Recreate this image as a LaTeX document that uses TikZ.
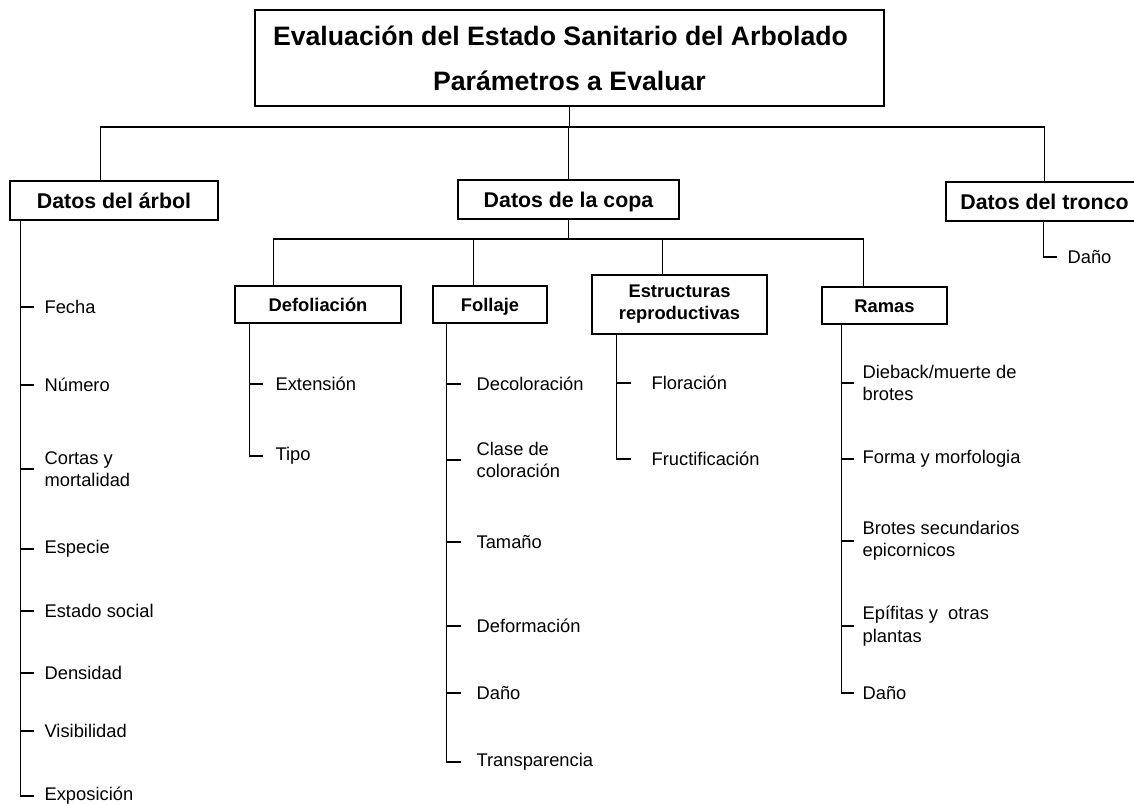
\documentclass[tikz,border=0pt]{standalone}
\usepackage{fontspec}
\setmainfont{Liberation Sans}
\usetikzlibrary{calc}
\newdimen\pxu \pxu=0.75pt
\begin{document}
\begin{tikzpicture}[x=0.75pt,y=-0.75pt,line width=0.9pt,
  box/.style={draw, inner sep=0pt, align=center},
  titlef/.style={font=\fontsize{20}{33.75}\selectfont\bfseries},
  bigf/.style={font=\fontsize{16}{19}\selectfont\bfseries, text height=11.46pt, text depth=0pt},
  subf/.style={font=\fontsize{13.75}{16.5}\selectfont\bfseries},
  subone/.style={subf, text height=9.85pt, text depth=0pt},
  item/.style={anchor=west, inner sep=0pt, align=left, font=\fontsize{13.75}{16.875}\selectfont},
]
\useasboundingbox (0,0) rectangle (1134,805);
\fill[white] (0,0) rectangle (1134,805);

% boxes
\node[box,titlef,minimum width=629*\pxu,minimum height=96*\pxu] (top) at (569.5,58)
  {Evaluación del Estado Sanitario del Arbolado\hspace*{18\pxu}\\Parámetros a Evaluar};
\node[box,bigf,minimum width=208*\pxu,minimum height=39*\pxu] (arbol) at (114,200.5) {Datos del árbol};
\node[box,bigf,minimum width=221*\pxu,minimum height=39*\pxu] (copa) at (568.5,199.5) {Datos de la copa};
\node[box,bigf,minimum width=197*\pxu,minimum height=39*\pxu] (tronco) at (1044.5,201.5) {Datos del tronco};
\node[box,subone,minimum width=166*\pxu,minimum height=37*\pxu] (defol) at (318,304.5) {Defoliación};
\node[box,subone,minimum width=114*\pxu,minimum height=37*\pxu] (foll) at (490,304.5) {Follaje};
\node[box,subf,minimum width=175*\pxu,minimum height=59*\pxu] (estr) at (679.5,304.5) {Estructuras\\reproductivas};
\node[box,subone,minimum width=125*\pxu,minimum height=37*\pxu] (ramas) at (884.5,305.5) {Ramas};

% first level bus
\coordinate (bus1) at (569.5,127);
\coordinate (arbT) at ($(arbol.north west)+(91,0)$);
\draw (top.south) -- (top.south |- bus1);
\draw (arbT) |- (tronco.north |- bus1) -- (tronco.north);
\draw (copa.north) -- (copa.north |- bus1);

% second level bus
\coordinate (bus2) at (568.5,239);
\coordinate (defT) at ($(defol.north west)+(39,0)$);
\coordinate (follT) at ($(foll.north west)+(41,0)$);
\coordinate (estrT) at ($(estr.north west)+(71,0)$);
\coordinate (ramT) at ($(ramas.north west)+(42,0)$);
\draw (defT) |- (ramT |- bus2) -- (ramT);
\draw (copa.south) -- (copa.south |- bus2);
\draw (follT) -- (follT |- bus2);
\draw (estrT) -- (estrT |- bus2);

% Datos del arbol
\node[item] (a1) at (44,307) {Fecha};
\node[item] (a2) at (44,385) {Número};
\node[item] (a3) at (44,469) {Cortas y\\mortalidad};
\node[item] (a4) at (44,549) {Especie};
\node[item] (a5) at (44,611) {Estado social};
\node[item] (a6) at (44,673) {Densidad};
\node[item] (a7) at (44,731) {Visibilidad};
\node[item] (a8) at (44,796) {Exposición};
\coordinate (aV) at ($(arbol.south west)+(11,0)$);
\draw (aV) -- (aV |- a8.west) -- ++(14,0);
\foreach \i in {1,...,7} \draw (aV |- a\i.west) -- ++(14,0);

% Defoliacion
\node[item] (d1) at (275,384) {Extensión};
\node[item] (d2) at (275,456) {Tipo};
\coordinate (dV) at ($(defol.south west)+(15,0)$);
\draw (dV) -- (dV |- d2.west) -- ++(14,0);
\draw (dV |- d1.west) -- ++(14,0);

% Follaje
\node[item] (f1) at (476,384) {Decoloración};
\node[item] (f2) at (476,460) {Clase de\\coloración};
\node[item] (f3) at (476,542) {Tamaño};
\node[item] (f4) at (476,626) {Deformación};
\node[item] (f5) at (476,693) {Daño};
\node[item] (f6) at (476,762) {Transparencia};
\coordinate (fV) at ($(foll.south west)+(14,0)$);
\draw (fV) -- (fV |- f6.west) -- ++(15,0);
\foreach \i in {1,...,5} \draw (fV |- f\i.west) -- ++(15,0);

% Estructuras reproductivas
\node[item] (e1) at (651,383) {Floración};
\node[item] (e2) at (651,459) {Fructificación};
\coordinate (eV) at ($(estr.south west)+(25,0)$);
\draw (eV) -- (eV |- e2.west) -- ++(15,0);
\draw (eV |- e1.west) -- ++(15,0);

% Ramas
\node[item] (r1) at (862,383) {Dieback/muerte de\\brotes};
\node[item] (r2) at (862,459) {Forma y morfologia};
\node[item] (r3) at (862,541) {Brotes secundarios\\epicornicos};
\node[item] (r4) at (862,626) {Epífitas y\ \ otras\\plantas};
\node[item] (r5) at (862,693) {Daño};
\coordinate (rV) at ($(ramas.south west)+(20,0)$);
\draw (rV) -- (rV |- r5.west) -- ++(13,0);
\foreach \i in {1,...,4} \draw (rV |- r\i.west) -- ++(13,0);

% Datos del tronco
\node[item] (t1) at (1067,257) {Daño};
\coordinate (tV) at ($(tronco.south west)+(98,0)$);
\draw (tV) -- (tV |- t1.west) -- ++(14,0);
\end{tikzpicture}
\end{document}
